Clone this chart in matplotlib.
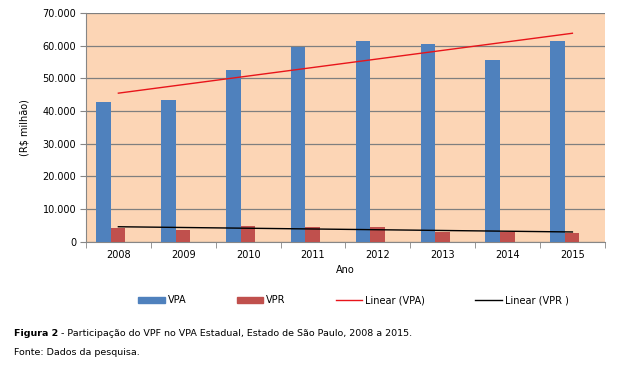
import matplotlib.pyplot as plt
import numpy as np
from matplotlib.patches import Patch
from matplotlib.lines import Line2D
from matplotlib.ticker import FuncFormatter

# values (R$ milhão)
years = ['2008', '2009', '2010', '2011', '2012', '2013', '2014', '2015']
vpa = [42600, 43300, 52400, 59600, 61500, 60400, 55700, 61500]
vpr = [4000, 3600, 4800, 4600, 4500, 2800, 2800, 2700]

blue = '#4F81BD'
red = '#C0504D'

fig = plt.figure(figsize=(6.32, 3.73), dpi=100)
ax = fig.add_axes([0.136, 0.3525, 0.821, 0.6126])
ax.set_facecolor('#FCD5B5')

x = np.arange(len(years))
w = 0.225
ax.bar(x - 0.228, vpa, width=w, color=blue, zorder=3)
ax.bar(x - 0.003, vpr, width=w, color=red, zorder=3)

# linear trend lines
fa = np.polyfit(x, vpa, 1)
fr = np.polyfit(x, vpr, 1)
ax.plot(x, np.polyval(fa, x), color='#E8141A', lw=1.0, zorder=4)
ax.plot(x, np.polyval(fr, x), color='black', lw=1.0, zorder=4)

ax.set_xlim(-0.5, len(years) - 0.5)
ax.set_ylim(0, 70000)
ax.set_yticks(np.arange(0, 70001, 10000))
ax.yaxis.set_major_formatter(FuncFormatter(lambda v, p: f'{int(v):,}'.replace(',', '.')))
ax.grid(axis='y', color='#7F7F7F', lw=0.9, zorder=1)

ax.set_xticks(x)
ax.set_xticklabels(years)
ax.set_xticks(np.arange(-0.5, len(years), 1), minor=True)
ax.tick_params(axis='x', which='major', length=0, pad=6, labelsize=7)
ax.tick_params(axis='x', which='minor', length=4, color='#868686', direction='out')
ax.tick_params(axis='y', length=4, color='#868686', labelsize=7, pad=3)

for s in ['top', 'right']:
    ax.spines[s].set_visible(False)
for s in ['left', 'bottom']:
    ax.spines[s].set_color('#868686')

ax.set_ylabel('(R$ milhão)', fontsize=7, labelpad=9)
ax.set_xlabel('Ano', fontsize=7, labelpad=4)

handles = [
    Patch(color=blue),
    Patch(color=red),
    Line2D([0], [0], color='#E8141A', lw=1.0),
    Line2D([0], [0], color='black', lw=1.0),
]
labels = ['VPA', 'VPR', 'Linear (VPA)', 'Linear (VPR )']
fig.legend(handles, labels, ncol=4, frameon=False, fontsize=7,
           loc='center left', bbox_to_anchor=(0.205, 0.195),
           handlelength=2.7, handleheight=0.5, handletextpad=0.3,
           columnspacing=5.2)

t = fig.text(0.022, 0.105, 'Figura 2', fontsize=6.8, va='center', fontweight='bold')
fig.canvas.draw()
bb = t.get_window_extent().transformed(fig.transFigure.inverted())
fig.text(bb.x1, 0.105, ' - Participação do VPF no VPA Estadual, Estado de São Paulo, 2008 a 2015.',
         fontsize=6.8, va='center')
fig.text(0.022, 0.055, 'Fonte: Dados da pesquisa.', fontsize=6.8, va='center')

fig.savefig('out.png', dpi=100, facecolor='white')
